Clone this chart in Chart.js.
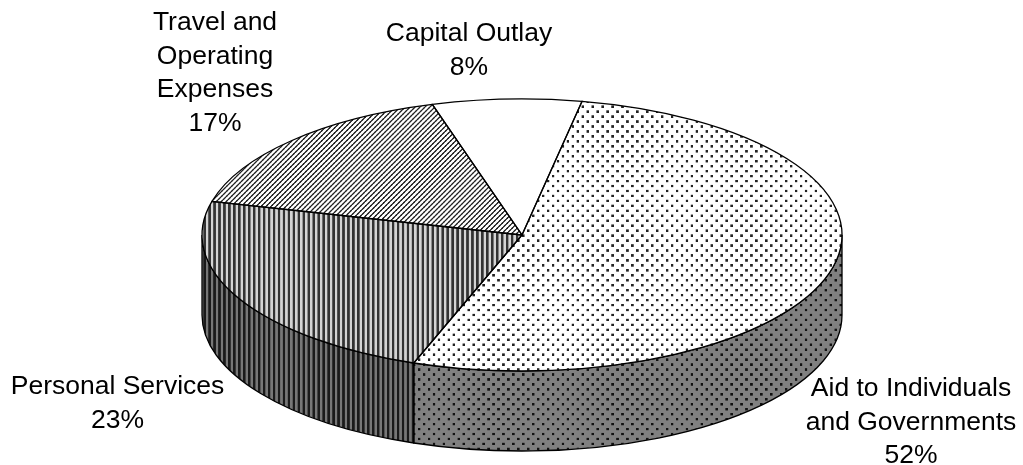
<!DOCTYPE html>
<html>
<head>
<meta charset="utf-8">
<title>Expenditures</title>
<script src="https://cdn.jsdelivr.net/npm/chart.js@4"></script>
<style>
  html, body { margin: 0; padding: 0; background: #fff; }
  canvas { display: block; }
</style>
</head>
<body>
<canvas id="myChart" width="1023" height="465"></canvas>
<script>
// dati
var categories = ['Aid to Individuals and Governments', 'Personal Services', 'Travel and Operating Expenses', 'Capital Outlay'];
var values = [52.49, 23.49, 16.5, 7.52];
var labelLines = [
  ['Aid to Individuals', 'and Governments'],
  ['Personal Services'],
  ['Travel and', 'Operating', 'Expenses'],
  ['Capital Outlay']
];

// geometria del disco 3D
var centerX = 522, centerY = 235, radiusX = 320, radiusY = 136, depth = 80;
var patternScale = 0.62;
var labelPos = [[911, 396], [117.5, 394], [215, 30], [469, 41]];
var lineHeight = 33.5;

function makeTile(bg, fg, isOn) {
  var size = 16;
  var c = document.createElement('canvas');
  c.width = size;
  c.height = size;
  var g = c.getContext('2d');
  g.fillStyle = bg;
  g.fillRect(0, 0, size, size);
  g.fillStyle = fg;
  for (var y = 0; y < size; y++) {
    for (var x = 0; x < size; x++) {
      if (isOn(x, y)) g.fillRect(x, y, 1, 1);
    }
  }
  return c;
}

function dots(x, y) {
  return (x >= 2 && x <= 5 && y >= 2 && y <= 5) || (x >= 10 && x <= 13 && y >= 10 && y <= 13);
}
function vertical(x, y) { return x % 8 < 4; }
function diagonal(x, y) { return (x + y) % 8 < 3; }

var ctx = document.getElementById('myChart').getContext('2d');

function makePattern(tile, matrix) {
  var p = ctx.createPattern(tile, 'repeat');
  p.setTransform(matrix);
  return p;
}

var wallScale = new DOMMatrix().scale(patternScale);
var wallPatterns = [
  makePattern(makeTile('#808080', '#111', dots), wallScale),
  makePattern(makeTile('#777', '#1a1a1a', vertical), wallScale)
];

// porta un angolo del canvas nel tratto visibile della parete (0..PI)
function wallRange(a, b) {
  var tau = Math.PI * 2;
  while (a < -Math.PI) { a += tau; b += tau; }
  var start = Math.max(a, 0);
  var end = Math.min(b, Math.PI);
  return end > start ? [start, end] : null;
}

var pie3d = {
  id: 'pie3d',
  beforeDatasetsDraw: function(chart) {
    var c = chart.ctx;
    var arcs = chart.getDatasetMeta(0).data;
    for (var i = 0; i < arcs.length; i++) {
      var range = wallRange(arcs[i].startAngle, arcs[i].endAngle);
      if (!range) continue;
      c.beginPath();
      c.ellipse(centerX, centerY, radiusX, radiusY, 0, range[0], range[1]);
      c.ellipse(centerX, centerY + depth, radiusX, radiusY, 0, range[1], range[0], true);
      c.closePath();
      c.fillStyle = wallPatterns[i] || '#808080';
      c.fill();
      c.lineWidth = 1.3;
      c.strokeStyle = '#000';
      c.stroke();
    }
    // schiaccio il cerchio della torta in un'ellisse
    var a = arcs[0];
    c.save();
    c.translate(centerX, centerY);
    c.scale(radiusX / a.outerRadius, radiusY / a.outerRadius);
    c.translate(-a.x, -a.y);
  },
  afterDatasetsDraw: function(chart) {
    var c = chart.ctx;
    c.restore();
    var arcs = chart.getDatasetMeta(0).data;
    c.lineWidth = 1.3;
    c.strokeStyle = '#000';
    for (var i = 0; i < arcs.length; i++) {
      c.beginPath();
      c.moveTo(centerX, centerY);
      c.ellipse(centerX, centerY, radiusX, radiusY, 0, arcs[i].startAngle, arcs[i].endAngle);
      c.closePath();
      c.stroke();
    }
    // etichette con percentuale
    c.fillStyle = '#000';
    c.font = '26.5px "Liberation Sans"';
    c.textAlign = 'center';
    c.textBaseline = 'alphabetic';
    for (var j = 0; j < labelLines.length; j++) {
      var lines = labelLines[j].concat(Math.round(values[j]) + '%');
      for (var k = 0; k < lines.length; k++) {
        c.fillText(lines[k], labelPos[j][0], labelPos[j][1] + k * lineHeight);
      }
    }
  }
};

// il pattern si disegna dentro la scala: la annullo con la matrice inversa
function topPatterns(outerRadius, x, y) {
  var m = new DOMMatrix()
    .translate(centerX, centerY)
    .scale(radiusX / outerRadius, radiusY / outerRadius)
    .translate(-x, -y)
    .inverse()
    .scale(patternScale);
  return [
    makePattern(makeTile('#fff', '#222', dots), m),
    makePattern(makeTile('#d4d4d4', '#333', vertical), m),
    makePattern(makeTile('#fff', '#222', diagonal), m),
    '#fff'
  ];
}

var myChart = new Chart(ctx, {
  type: 'pie',
  data: {
    labels: categories,
    datasets: [{
      data: values,
      backgroundColor: '#fff',
      borderWidth: 0,
      clip: false
    }]
  },
  options: {
    responsive: false,
    animation: false,
    rotation: 10.8,
    events: [],
    plugins: {
      legend: { display: false },
      tooltip: { enabled: false }
    }
  },
  plugins: [pie3d]
});

var first = myChart.getDatasetMeta(0).data[0];
myChart.data.datasets[0].backgroundColor = topPatterns(first.outerRadius, first.x, first.y);
myChart.update();
</script>
</body>
</html>
